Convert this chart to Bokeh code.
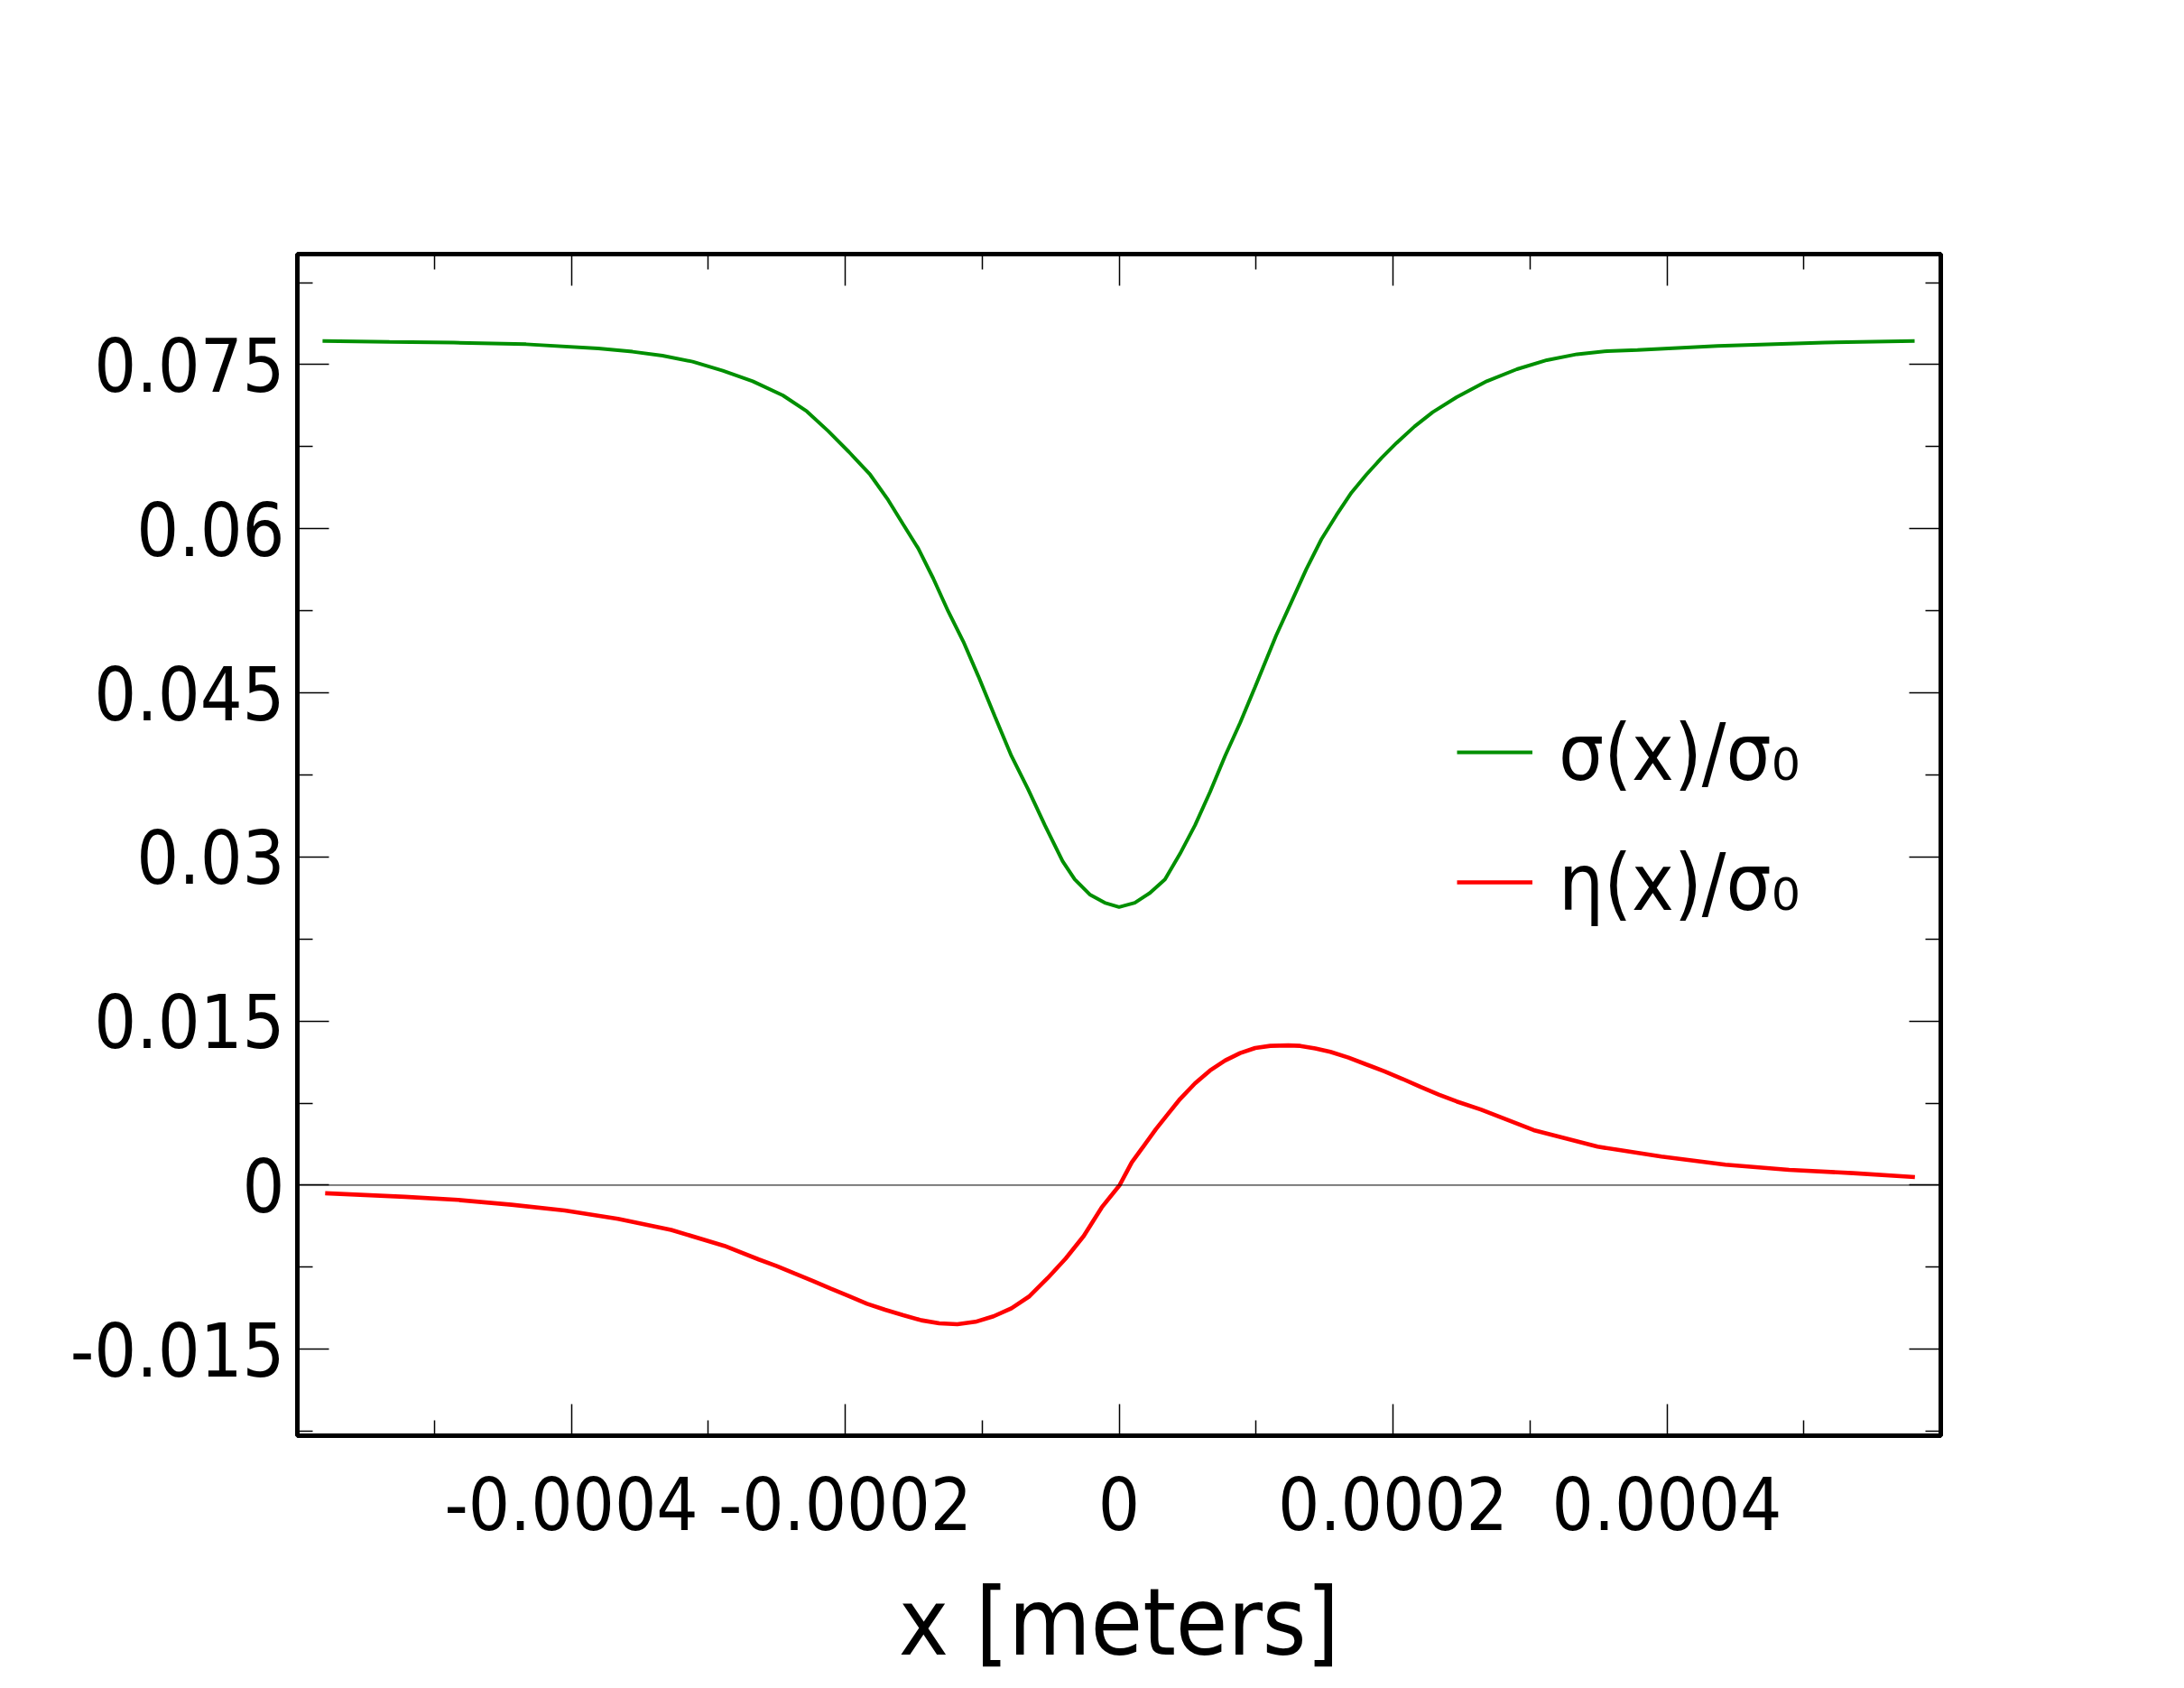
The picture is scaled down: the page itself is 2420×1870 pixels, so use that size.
from bokeh.plotting import figure
from bokeh.models import Range1d, LinearAxis, FixedTicker, Span, Legend, LegendItem
from bokeh.embed import file_html
from bokeh.resources import INLINE

# ---- data ----
x_sigma = [-0.0005816, -0.0005327, -0.0004858, -0.000433, -0.0003803,
           -0.0003553, -0.0003334, -0.0003114, -0.0002894, -0.0002675, -0.0002455,
           -0.000228, -0.0002125, -0.0001972, -0.0001818, -0.0001686, -0.0001577,
           -0.0001467, -0.0001357, -0.0001247, -0.0001137, -0.0001027, -0.0000906,
           -0.0000786, -0.0000665, -0.0000542, -0.0000412, -0.0000324, -0.0000214,
           -0.0000105, 0.0, 0.0000115, 0.0000225, 0.0000335, 0.0000445, 0.0000555,
           0.0000664, 0.0000774, 0.0000884, 0.0000994, 0.0001147, 0.0001257,
           0.0001367, 0.0001477, 0.0001587, 0.0001697, 0.0001806, 0.0001916,
           0.0002026, 0.0002158, 0.000229, 0.0002465, 0.0002685, 0.0002905,
           0.0003124, 0.0003344, 0.0003564, 0.0003785, 0.000437, 0.0005152, 0.0005809]
sigma_ratio = [0.07716, 0.07708, 0.07701, 0.07686, 0.07648,
               0.07618, 0.07582, 0.07527, 0.07444, 0.07348, 0.07219,
               0.07073, 0.06894, 0.06701, 0.06495, 0.06262, 0.06041,
               0.05821, 0.05546, 0.05243, 0.04968, 0.04650, 0.04281,
               0.03923, 0.03620, 0.03290, 0.02960, 0.02795, 0.02657,
               0.02581, 0.02542, 0.02581, 0.02671, 0.02795, 0.03029, 0.03290,
               0.03593, 0.03923, 0.04226, 0.04556, 0.05024, 0.05326,
               0.05629, 0.05903, 0.06124, 0.06330, 0.06495, 0.06646,
               0.06784, 0.06935, 0.07065, 0.07202, 0.07348, 0.07458,
               0.07541, 0.07595, 0.07623, 0.07633, 0.07670, 0.07701, 0.07716]

x_eta = [-0.0005797, -0.0005214, -0.0004825, -0.0004436, -0.0004047, -0.0003659,
         -0.0003271, -0.0002882, -0.0002631, -0.0002499, -0.0002367, -0.0002235,
         -0.0002104, -0.0001972, -0.000184, -0.0001708, -0.0001576, -0.0001444,
         -0.0001313, -0.0001181, -0.0001049, -0.0000917, -0.0000786, -0.0000654,
         -0.0000522, -0.000039, -0.0000258, -0.0000127, 0.0000005, 0.0000093,
         0.0000181, 0.0000269, 0.0000357, 0.0000445, 0.0000554, 0.0000664,
         0.0000774, 0.0000884, 0.0000994, 0.0001104, 0.0001236, 0.0001323,
         0.0001433, 0.0001543, 0.0001675, 0.0001806, 0.0001938, 0.000207,
         0.0002202, 0.0002334, 0.0002465, 0.0002641, 0.0003027, 0.0003494,
         0.000396, 0.0004427, 0.0004893, 0.0005359, 0.0005811]
eta_ratio = [-0.00074, -0.00107, -0.00135, -0.00179, -0.00231, -0.00308,
             -0.00409, -0.00555, -0.00679, -0.00740, -0.00809, -0.00877,
             -0.00947, -0.01015, -0.01084, -0.01139, -0.01188, -0.01235,
             -0.01263, -0.01271, -0.01249, -0.01199, -0.01125, -0.01015,
             -0.00850, -0.00671, -0.00465, -0.00204, 0.00002, 0.00209,
             0.00360, 0.00512, 0.00650, 0.00787, 0.00930, 0.01048,
             0.01139, 0.01207, 0.01254, 0.01273, 0.01277, 0.01273,
             0.01249, 0.01219, 0.01166, 0.01103, 0.01040, 0.00971,
             0.00897, 0.00828, 0.00765, 0.00691, 0.00503, 0.00352,
             0.00261, 0.00187, 0.00140, 0.00110, 0.00074]

series_labels = ["σ(x)/σ₀", "η(x)/σ₀"]
series_colors = ["#008f00", "#ff0000"]

x_major_ticks = [-0.0004, -0.0002, 0.0, 0.0002, 0.0004]
x_tick_labels = ["-0.0004", "-0.0002", "0", "0.0002", "0.0004"]
x_minor_ticks = [-0.0005, -0.0003, -0.0001, 0.0001, 0.0003, 0.0005]

y_major_ticks = [-0.015, 0.0, 0.015, 0.03, 0.045, 0.06, 0.075]
y_tick_labels = ["-0.015", "0", "0.015", "0.03", "0.045", "0.06", "0.075"]
y_minor_ticks = [-0.0225, -0.0075, 0.0075, 0.0225, 0.0375, 0.0525, 0.0675, 0.0825]

x_title = "x [meters]"
x_limits = (-0.0006, 0.0006)
y_limits = (-0.0229, 0.0851)

FONT = "DejaVu Sans Condensed"

p = figure(width=2404, height=1860, output_backend="svg", toolbar_location=None,
           x_range=Range1d(*x_limits), y_range=Range1d(*y_limits),
           x_axis_location=None, y_axis_location=None,
           min_border_left=329, min_border_right=254,
           min_border_top=281, min_border_bottom=270)
p.background_fill_color = "white"
p.border_fill_color = "white"
p.outline_line_color = "black"
p.outline_line_width = 5
p.xgrid.visible = False
p.ygrid.visible = False

xt = FixedTicker(ticks=x_major_ticks, minor_ticks=x_minor_ticks)
yt = FixedTicker(ticks=y_major_ticks, minor_ticks=y_minor_ticks)


def style_axis(ax, show_labels):
    ax.axis_line_color = None
    ax.major_tick_in = 35
    ax.major_tick_out = 0
    ax.minor_tick_in = 17
    ax.minor_tick_out = 0
    ax.major_tick_line_color = "black"
    ax.minor_tick_line_color = "black"
    ax.major_tick_line_width = 1.5
    ax.minor_tick_line_width = 1.5
    ax.major_label_text_font = FONT
    ax.major_label_text_color = "black"
    if not show_labels:
        ax.major_label_text_font_size = "0px"
        ax.major_label_standoff = 0


xb = LinearAxis(ticker=xt)
style_axis(xb, True)
xb.major_label_overrides = {t: s for t, s in zip(x_major_ticks, x_tick_labels)}
xb.major_label_text_font_size = "81px"
xb.major_label_standoff = 45
xb.axis_label = x_title
xb.axis_label_text_font = FONT
xb.axis_label_text_font_size = "104px"
xb.axis_label_text_font_style = "normal"
xb.axis_label_text_color = "black"
xb.axis_label_standoff = 38
p.add_layout(xb, "below")

yl = LinearAxis(ticker=yt)
style_axis(yl, True)
yl.major_label_overrides = {t: s for t, s in zip(y_major_ticks, y_tick_labels)}
yl.major_label_text_font_size = "82px"
yl.major_label_standoff = 14
p.add_layout(yl, "left")

xa = LinearAxis(ticker=xt)
style_axis(xa, False)
xa.major_label_overrides = {t: "" for t in x_major_ticks}
p.add_layout(xa, "above")

yr = LinearAxis(ticker=yt)
style_axis(yr, False)
yr.major_label_overrides = {t: "" for t in y_major_ticks}
p.add_layout(yr, "right")

zero = Span(location=0, dimension="width", line_color="black", line_width=1)
p.add_layout(zero)

r1 = p.line(x_sigma, sigma_ratio, line_color=series_colors[0], line_width=4)
r2 = p.line(x_eta, eta_ratio, line_color=series_colors[1], line_width=4.6)

legend = Legend(items=[LegendItem(label=series_labels[0], renderers=[r1]),
                       LegendItem(label=series_labels[1], renderers=[r2])],
                location=(1285, 541), orientation="vertical",
                border_line_color=None, background_fill_alpha=0,
                padding=0, margin=0, spacing=0,
                glyph_width=84, glyph_height=144, label_height=144,
                label_standoff=29,
                label_text_font=FONT, label_text_font_size="88px",
                label_text_color="black")
p.add_layout(legend)

open("out.html", "w").write(file_html(p, INLINE))
